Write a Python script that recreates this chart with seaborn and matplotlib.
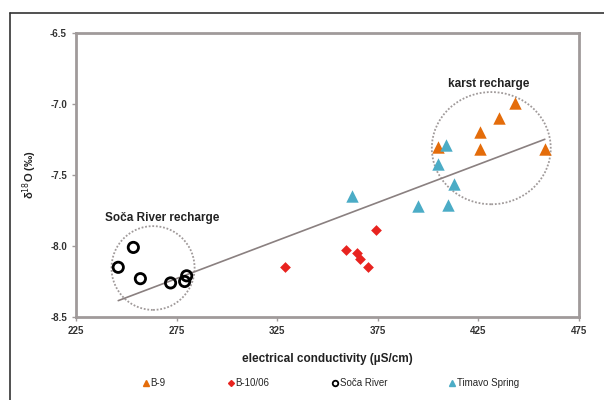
import numpy as np
import pandas as pd
import matplotlib
matplotlib.use("Agg")
import matplotlib.pyplot as plt
from matplotlib.patches import Ellipse
from matplotlib.lines import Line2D
import seaborn as sns

# ---- data ----
b9_ec = [443, 435, 426, 426, 405, 458]
b9_d18o = [-6.99, -7.10, -7.20, -7.32, -7.30, -7.32]

b10_ec = [374, 359, 364.5, 366, 370, 329]
b10_d18o = [-7.89, -8.03, -8.05, -8.09, -8.15, -8.15]

soca_ec = [253.5, 246, 257, 272, 279, 280]
soca_d18o = [-8.01, -8.15, -8.23, -8.26, -8.25, -8.21]

timavo_ec = [409, 405, 413, 362, 395, 410]
timavo_d18o = [-7.29, -7.42, -7.56, -7.65, -7.72, -7.71]

series_names = ["B-9", "B-10/06", "Soča River", "Timavo Spring"]
x_ticks = [225, 275, 325, 375, 425, 475]
y_ticks = [-8.5, -8.0, -7.5, -7.0, -6.5]

sns.set_theme(style="white")
plt.rcParams['font.family'] = ['Liberation Sans', 'DejaVu Sans']

fig = plt.figure(figsize=(6.04, 4.0), dpi=100)
ax = fig.add_axes([76/604, 1-317/400, (579-76)/604, (317-33)/400])

orange = "#E46C0A"
red = "#E8231F"
cyan = "#4BACC6"

sns.scatterplot(x=b9_ec, y=b9_d18o, ax=ax, marker="^", s=80, color=orange,
                edgecolor=orange, linewidth=0, zorder=4)
sns.scatterplot(x=b10_ec, y=b10_d18o, ax=ax, marker="D", s=30, color=red,
                edgecolor=red, linewidth=0, zorder=4)
sns.scatterplot(x=soca_ec, y=soca_d18o, ax=ax, marker="o", s=55, facecolor="none",
                edgecolor="black", linewidth=2, zorder=4)
sns.scatterplot(x=timavo_ec, y=timavo_d18o, ax=ax, marker="^", s=80, color=cyan,
                edgecolor=cyan, linewidth=0, zorder=4)

all_x = np.array(b9_ec + b10_ec + soca_ec + timavo_ec)
all_y = np.array(b9_d18o + b10_d18o + soca_d18o + timavo_d18o)
sns.regplot(x=all_x, y=all_y, ax=ax, scatter=False, ci=None, truncate=True,
            line_kws=dict(color="#8a8080", lw=1.2, zorder=3))

# recharge circles
ax.add_patch(Ellipse((263.3, -8.155), 41.3, 0.59, fill=False, ls=(0, (1, 1)),
                     ec="#a09a9a", lw=1.3, zorder=2))
ax.add_patch(Ellipse((431.4, -7.311), 59.1, 0.79, fill=False, ls=(0, (1, 1)),
                     ec="#a09a9a", lw=1.3, zorder=2))
ax.text(267.7, -7.80, "Soča River recharge", ha="center", va="center",
        fontsize=8.5, fontweight="bold", color="#222222")
ax.text(430, -6.86, "karst recharge", ha="center", va="center",
        fontsize=8.5, fontweight="bold", color="#222222")

ax.set_xlim(225, 475)
ax.set_ylim(-8.5, -6.5)
ax.set_xticks(x_ticks)
ax.set_xticklabels([str(t) for t in x_ticks])
ax.set_yticks(y_ticks)
ax.set_yticklabels([f"{t:.1f}" for t in y_ticks])
ax.tick_params(axis="both", labelsize=7, colors="#a09a9a", labelcolor="#333333",
               length=3, width=1, direction="out", bottom=True, left=True)
for lab in ax.get_xticklabels() + ax.get_yticklabels():
    lab.set_fontweight("bold")
for sp in ax.spines.values():
    sp.set_color("#a09a9a")
    sp.set_linewidth(2)

ax.set_xlabel("electrical conductivity (µS/cm)", fontsize=8.5, fontweight="bold",
              color="#222222", labelpad=12)
ax.set_ylabel("δ$^{18}$O (‰)", fontsize=8, fontweight="bold", color="#222222",
              labelpad=8)

handles = [
    Line2D([], [], ls="none", marker="^", color=orange, markersize=4),
    Line2D([], [], ls="none", marker="D", color=red, markersize=3),
    Line2D([], [], ls="none", marker="o", mfc="none", mec="black", mew=1.3, markersize=4),
    Line2D([], [], ls="none", marker="^", color=cyan, markersize=4),
]
fig.legend(handles, series_names, loc="center", bbox_to_anchor=(330/604, 1-383/400),
           ncol=4, frameon=False, fontsize=7, handletextpad=0.0,
           columnspacing=6.2, handlelength=1.0)

# outer frame
fig.add_artist(Line2D([10/604, 1], [1-13/400, 1-13/400], color="#333333", lw=1.2,
                      transform=fig.transFigure))
fig.add_artist(Line2D([10/604, 10/604], [0, 1-13/400], color="#333333", lw=1.2,
                      transform=fig.transFigure))

fig.savefig("out.png", dpi=100)
